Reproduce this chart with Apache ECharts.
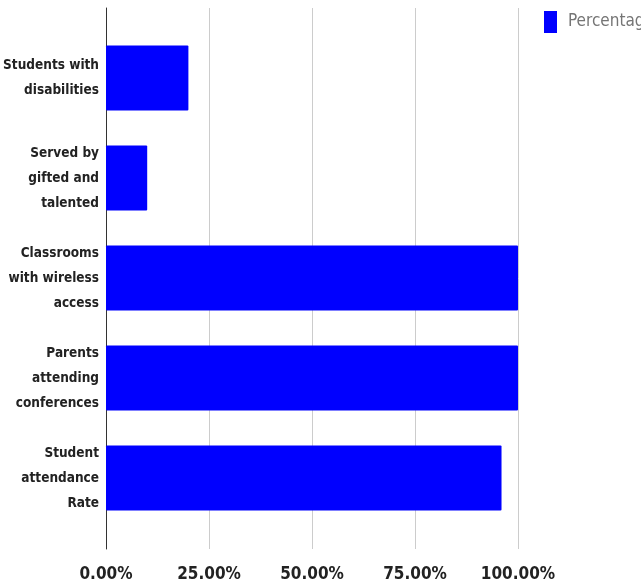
<!DOCTYPE html>
<html><head><meta charset="utf-8">
<script src="https://cdn.jsdelivr.net/npm/echarts@6/dist/echarts.min.js"></script>
<style>html,body{margin:0;padding:0;background:#fff}#c{width:641px;height:585px}</style>
</head><body><div id="c"></div>
<script>
const categories = ['Students with\ndisabilities', 'Served by\ngifted and\ntalented', 'Classrooms\nwith wireless\naccess', 'Parents\nattending\nconferences', 'Student\nattendance\nRate'];
const percentage = [20, 10, 100, 100, 96];
const xTicks = [0, 25, 50, 75, 100];
const FONT = '"DejaVu Sans Condensed", "Roboto", sans-serif';
const chart = echarts.init(document.getElementById('c'));
chart.setOption({
  animation: false,
  legend: {
    data: ['Percentage'], left: 539, top: 6, icon: 'rect', itemWidth: 13, itemHeight: 22, itemGap: 11,
    textStyle: { color: '#757575', fontSize: 17, fontFamily: FONT, padding: [0, 0, 0, 6] }
  },
  grid: [
    { left: 106, width: 412, top: 28, height: 500, outerBoundsMode: 'none', containLabel: false },
    { left: 106, width: 412, top: 8, height: 541, outerBoundsMode: 'none', containLabel: false }
  ],
  xAxis: [
    { gridIndex: 0, type: 'value', min: 0, max: 100, show: false },
    { gridIndex: 1, type: 'value', min: xTicks[0], max: xTicks[xTicks.length - 1], interval: 25,
      axisLine: { show: false }, axisTick: { show: false },
      splitLine: { lineStyle: { color: '#cccccc', width: 1 } },
      axisLabel: { margin: 17, color: '#222', fontSize: 17, fontFamily: FONT, fontWeight: 'bold',
        formatter: v => v.toFixed(2) + '%' } }
  ],
  yAxis: [
    { gridIndex: 0, type: 'category', data: categories, inverse: true,
      axisLine: { show: false }, axisTick: { show: false },
      axisLabel: { margin: 7, color: '#222', fontSize: 13.5, lineHeight: 25, fontFamily: FONT, fontWeight: 'bold', align: 'right' } },
    { gridIndex: 1, type: 'category', data: [''],
      axisLine: { show: true, lineStyle: { color: '#333', width: 1 } }, axisTick: { show: false }, axisLabel: { show: false } }
  ],
  series: [{
    name: 'Percentage', type: 'bar', xAxisIndex: 0, yAxisIndex: 0, data: percentage,
    barWidth: 65, itemStyle: { color: '#0000ff', borderRadius: 1 }
  }]
});
</script></body></html>
